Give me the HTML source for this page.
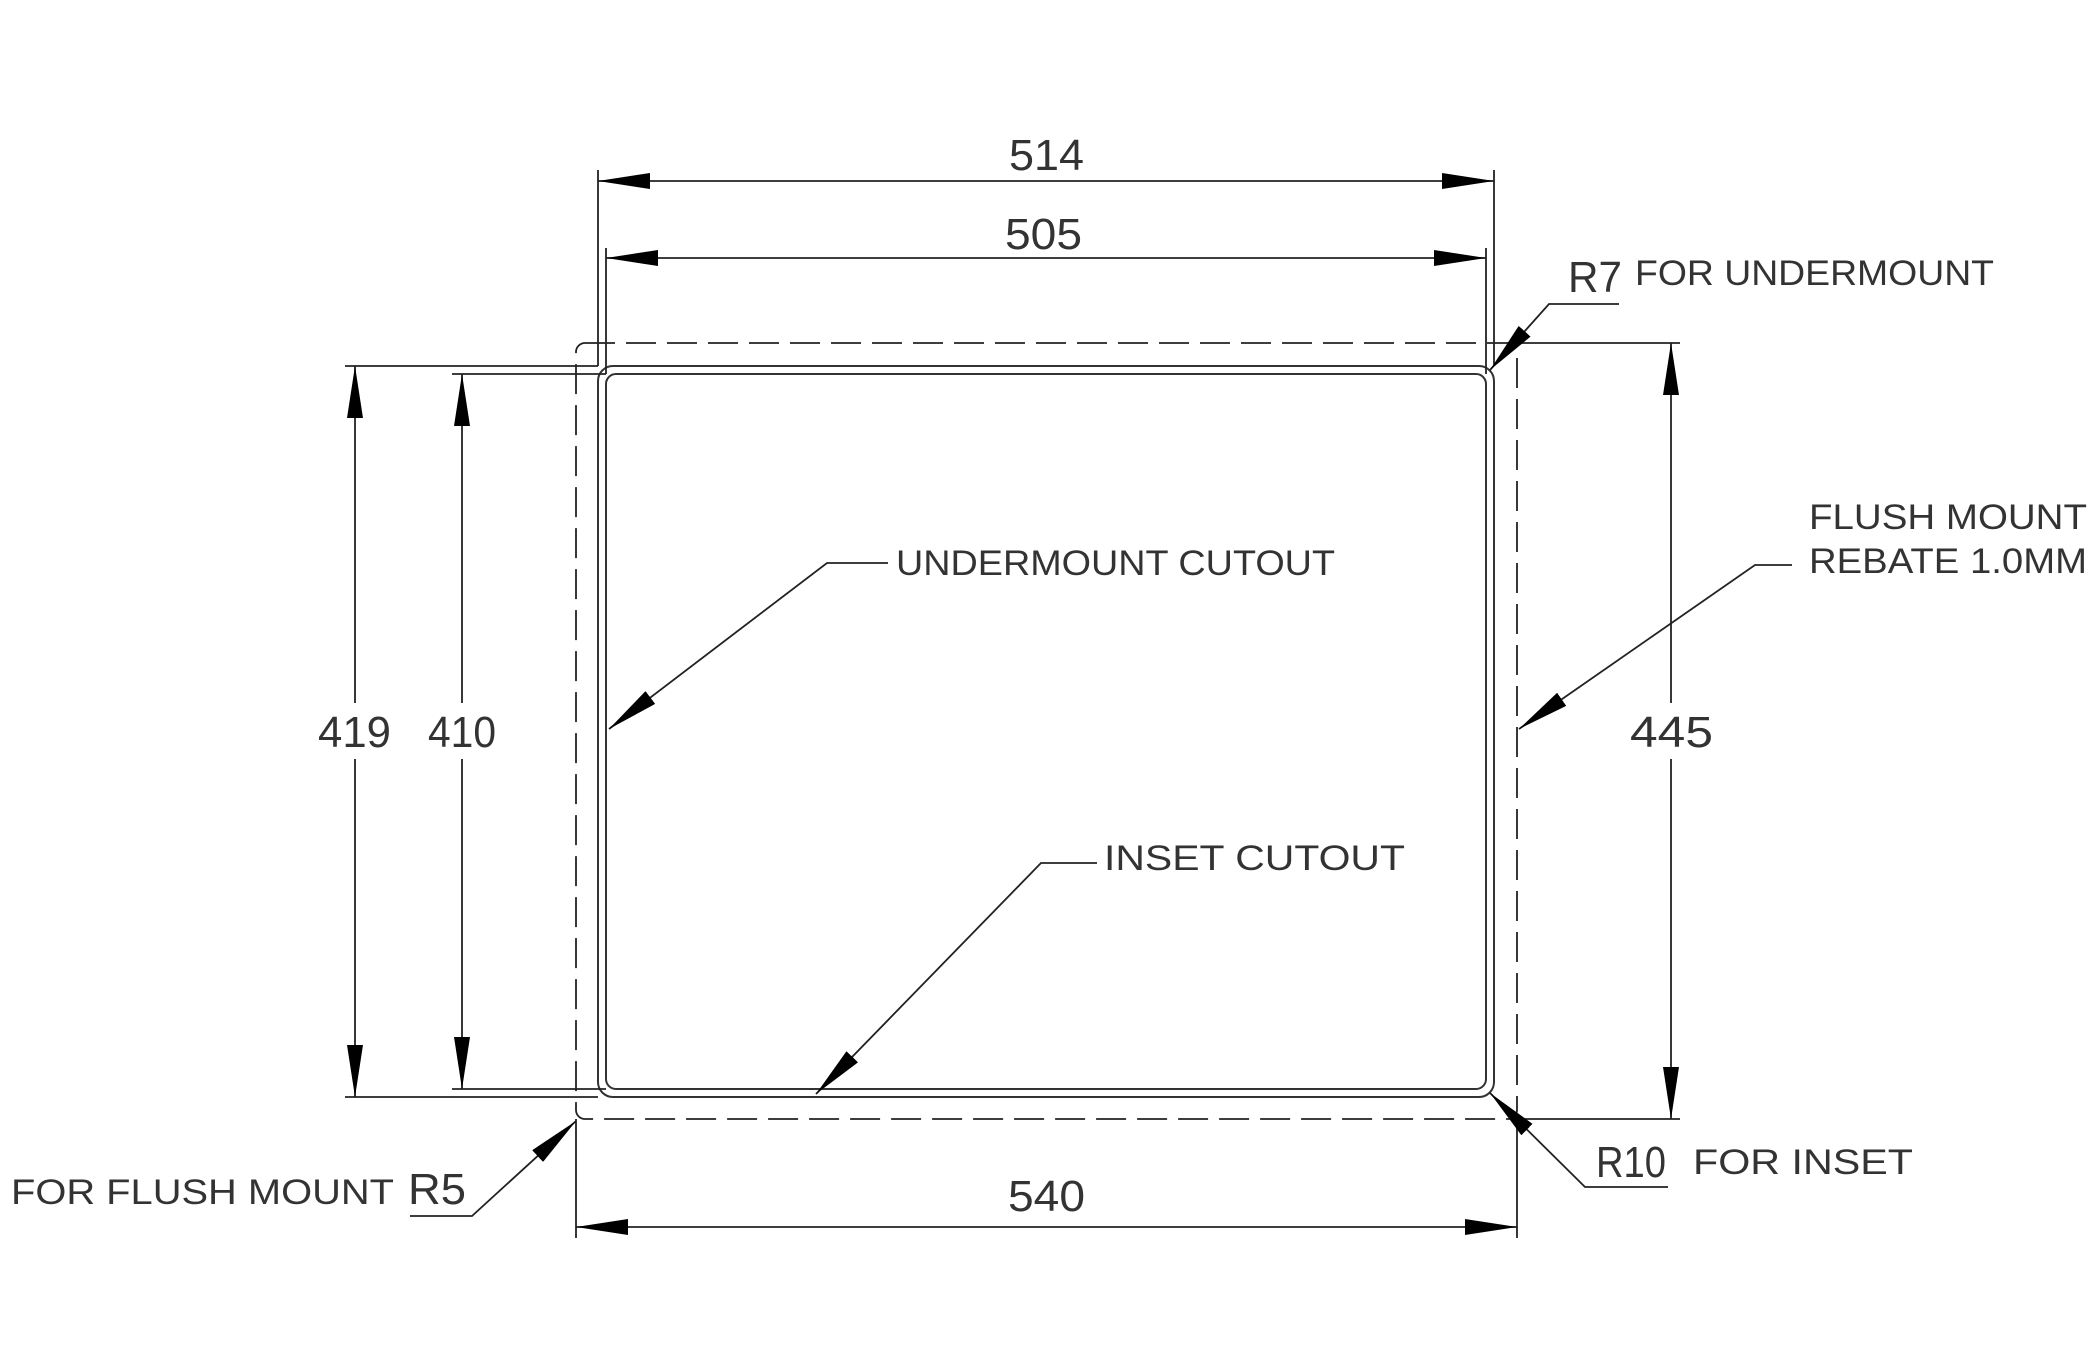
<!DOCTYPE html>
<html><head><meta charset="utf-8"><style>
html,body{margin:0;padding:0;background:#fff;}
svg{display:block;}
text{font-family:"Liberation Sans",sans-serif;fill:#333;}
</style></head><body>
<svg width="2098" height="1358" viewBox="0 0 2098 1358" xmlns="http://www.w3.org/2000/svg">
<defs>
<marker id="a" viewBox="0 0 52 16" refX="52" refY="8" markerWidth="52" markerHeight="16" markerUnits="userSpaceOnUse" orient="auto-start-reverse">
<path d="M0,0 L52,8 L0,16 z" fill="#000"/>
</marker>
</defs>
<g fill="none" stroke="#222" stroke-width="1.8">
<rect x="576" y="343" width="941" height="776" rx="9" stroke-dasharray="30,11"/>
<rect x="598" y="366" width="896" height="731" rx="15" stroke="#333" stroke-width="2"/>
<rect x="606" y="374" width="880" height="715" rx="10" stroke="#333" stroke-width="2"/>
<line x1="598" y1="170" x2="598" y2="366"/>
<line x1="1494" y1="170" x2="1494" y2="366"/>
<line x1="606" y1="248" x2="606" y2="374"/>
<line x1="1486" y1="248" x2="1486" y2="374"/>
<line x1="345" y1="366" x2="598" y2="366"/>
<line x1="345" y1="1097" x2="598" y2="1097"/>
<line x1="452" y1="374" x2="606" y2="374"/>
<line x1="452" y1="1089" x2="606" y2="1089"/>
<line x1="1517" y1="343" x2="1680" y2="343"/>
<line x1="1517" y1="1119" x2="1680" y2="1119"/>
<line x1="576" y1="1119" x2="576" y2="1238"/>
<line x1="1517" y1="1119" x2="1517" y2="1238"/>
<line x1="598" y1="181" x2="1494" y2="181" marker-start="url(#a)" marker-end="url(#a)"/>
<line x1="606" y1="258" x2="1486" y2="258" marker-start="url(#a)" marker-end="url(#a)"/>
<line x1="576" y1="1227" x2="1517" y2="1227" marker-start="url(#a)" marker-end="url(#a)"/>
<line x1="355" y1="366" x2="355" y2="1097" marker-start="url(#a)" marker-end="url(#a)"/>
<line x1="462" y1="374" x2="462" y2="1089" marker-start="url(#a)" marker-end="url(#a)"/>
<line x1="1671" y1="343" x2="1671" y2="1119" marker-start="url(#a)" marker-end="url(#a)"/>
<polyline points="1619,304 1549,304 1490,370" marker-end="url(#a)"/>
<polyline points="1792,565 1755,565 1519,729" marker-end="url(#a)"/>
<polyline points="888,563 827,563 609,729" marker-end="url(#a)"/>
<polyline points="1097,863 1041,863 816,1094" marker-end="url(#a)"/>
<polyline points="1668,1187 1585,1187 1490,1093" marker-end="url(#a)"/>
<polyline points="410,1216 472,1216 576,1121" marker-end="url(#a)"/>
</g>
<rect x="340" y="703" width="30" height="56" fill="#fff"/>
<rect x="447" y="703" width="30" height="56" fill="#fff"/>
<rect x="1656" y="703" width="30" height="56" fill="#fff"/>
<g font-size="44">
<text x="1009" y="170" textLength="75" lengthAdjust="spacingAndGlyphs">514</text>
<text x="1005" y="249" textLength="77" lengthAdjust="spacingAndGlyphs">505</text>
<text x="1008" y="1211" textLength="77" lengthAdjust="spacingAndGlyphs">540</text>
<text x="318" y="747" textLength="73" lengthAdjust="spacingAndGlyphs">419</text>
<text x="428" y="747" textLength="68" lengthAdjust="spacingAndGlyphs">410</text>
<text x="1630" y="747" textLength="83" lengthAdjust="spacingAndGlyphs">445</text>
<text x="1568" y="292" textLength="54" lengthAdjust="spacingAndGlyphs">R7</text>
<text x="1596" y="1177" textLength="70" lengthAdjust="spacingAndGlyphs">R10</text>
<text x="408" y="1204" textLength="58" lengthAdjust="spacingAndGlyphs">R5</text>
</g>
<g font-size="35">
<text x="1635" y="285" textLength="359" lengthAdjust="spacingAndGlyphs">FOR UNDERMOUNT</text>
<text x="1809" y="529" textLength="278" lengthAdjust="spacingAndGlyphs">FLUSH MOUNT</text>
<text x="1809" y="573" textLength="278" lengthAdjust="spacingAndGlyphs">REBATE 1.0MM</text>
<text x="896" y="575" textLength="439" lengthAdjust="spacingAndGlyphs">UNDERMOUNT CUTOUT</text>
<text x="1104" y="870" textLength="301" lengthAdjust="spacingAndGlyphs">INSET CUTOUT</text>
<text x="1693" y="1174" textLength="220" lengthAdjust="spacingAndGlyphs">FOR INSET</text>
<text x="11" y="1204" textLength="383" lengthAdjust="spacingAndGlyphs">FOR FLUSH MOUNT</text>
</g>
</svg>
</body></html>
